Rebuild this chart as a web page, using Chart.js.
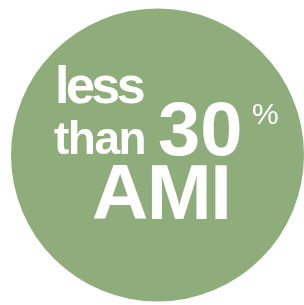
<!DOCTYPE html>
<html>
<head>
<meta charset="utf-8">
<script src="https://cdn.jsdelivr.net/npm/chart.js@4/dist/chart.umd.min.js"></script>
<style>
html,body{margin:0;padding:0;background:#fff;}
#wrap{width:304px;height:305px;position:relative;}
</style>
</head>
<body>
<div id="wrap"><canvas id="c"></canvas></div>
<script>
const categories = ["less than 30% AMI"];
const values = [100];
const colors = ["#8fad7a"];
const labelLines = [
  {text: "less", x: 55, y: 103, size: 52, weight: "bold", spacing: -3.5},
  {text: "than", x: 54, y: 154, size: 46, weight: "bold", spacing: -1.5},
  {text: "30", x: 158, y: 155, size: 76, weight: "bold", spacing: 0},
  {text: "%", x: 252, y: 124, size: 30, weight: "normal", spacing: 0},
  {text: "AMI", x: 92, y: 219, size: 78, weight: "bold", spacing: -1.5}
];

const textPlugin = {
  id: "centerText",
  afterDatasetsDraw(chart) {
    const ctx = chart.ctx;
    ctx.save();
    ctx.fillStyle = "#ffffff";
    ctx.textBaseline = "alphabetic";
    ctx.textAlign = "left";
    labelLines.forEach(l => {
      ctx.font = l.weight + " " + l.size + "px 'Liberation Sans', Arial, sans-serif";
      ctx.letterSpacing = l.spacing + "px";
      ctx.fillText(l.text, l.x, l.y);
    });
    ctx.restore();
  }
};

new Chart(document.getElementById("c"), {
  type: "pie",
  data: {
    labels: categories,
    datasets: [{data: values, backgroundColor: colors, borderWidth: 0, hoverOffset: 0}]
  },
  options: {
    responsive: true,
    maintainAspectRatio: false,
    animation: false,
    events: [],
    layout: {padding: {left: 11, right: 0, top: 8, bottom: 3}},
    plugins: {legend: {display: false}, tooltip: {enabled: false}, title: {display: false}}
  },
  plugins: [textPlugin]
});
</script>
</body>
</html>
